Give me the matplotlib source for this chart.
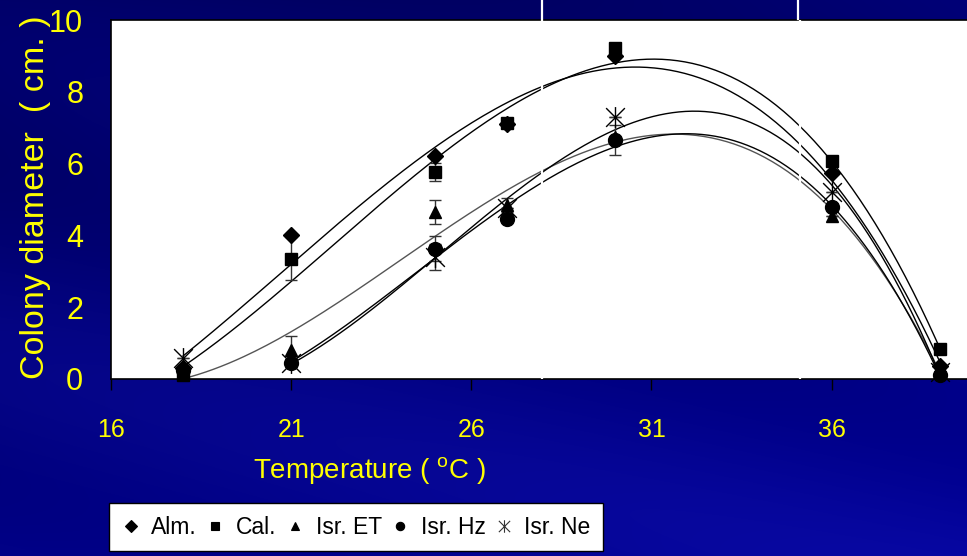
import numpy as np
import matplotlib.pyplot as plt
from matplotlib.path import Path
from matplotlib.lines import Line2D

plt.rcParams['font.family'] = ['Liberation Sans', 'DejaVu Sans']
plt.rcParams['mathtext.fontset'] = 'custom'
plt.rcParams['mathtext.rm'] = 'Liberation Sans'

# data
temps = [18, 21, 25, 27, 30, 36, 39]
alm = [0.3, 4.0, 6.2, 7.1, 9.0, 5.75, 0.35]
cal = [0.1, 3.35, 5.77, 7.12, 9.23, 6.06, 0.83]
isr_et = [0.2, 0.8, 4.65, 4.85, 6.75, 4.55, 0.3]
isr_hz = [0.25, 0.45, 3.63, 4.47, 6.65, 4.8, 0.1]
isr_ne = [0.58, 0.45, 3.4, 4.75, 7.3, 5.2, 0.2]

alm_err = [0, 0, 0, 0, 0, 0, 0]
cal_err = [0, 0.6, 0.25, 0, 0.1, 0, 0]
et_err = [0, 0.4, 0.33, 0.2, 0, 0, 0]
hz_err = [0, 0, 0.35, 0, 0.42, 0, 0]
ne_err = [0, 0, 0.37, 0, 0, 0, 0]

labels = ['Alm.', 'Cal.', 'Isr. ET', 'Isr. Hz', 'Isr. Ne']
x_ticks = [16, 21, 26, 31, 36]
y_ticks = [0, 2, 4, 6, 8, 10]

YELLOW = '#ffff00'

# asterisk marker: x with vertical bar
star = Path([(0, -1), (0, 1), (-0.9, -0.9), (0.9, 0.9), (-0.9, 0.9), (0.9, -0.9)],
            [Path.MOVETO, Path.LINETO] * 3)

series = [
    (alm, alm_err, 'D', 8, 0, 'black'),
    (cal, cal_err, 's', 9, 0, 'black'),
    (isr_et, et_err, '^', 9, 0, '#555555'),
    (isr_hz, hz_err, 'o', 10, 1, 'black'),
    (isr_ne, ne_err, star, 15, 1, 'black'),
]

fig = plt.figure(figsize=(9.67, 5.56), dpi=100)

# navy slide background with soft diagonal bands
bg = fig.add_axes([0, 0, 1, 1], zorder=-10)
yy, xx = np.mgrid[0:556, 0:967]
d = (yy - 0.25 * xx) / 556.0
band = 0.5 + 0.5 * np.sin(d * 11.0 + 1.0)
blue = 0.36 + 0.16 * (yy / 556) + 0.06 * (xx / 967) + 0.06 * band
img = np.dstack([0.03 * band * (yy / 556), 0.03 * band * (yy / 556), blue])
bg.imshow(img, aspect='auto', extent=[0, 1, 0, 1])
bg.axis('off')

ax = fig.add_axes([111 / 967, 1 - 379 / 556, 1 - 111 / 967 + 0.002, 359 / 556])
ax.set_facecolor('white')

for vals, errs, mk, ms, start, lc in series:
    t = np.array(temps[start:])
    v = np.array(vals[start:])
    coef = np.polyfit(t, v, 3)
    xf = np.linspace(t[0], t[-1], 200)
    ax.plot(xf, np.polyval(coef, xf), color=lc, lw=1.0, zorder=2)
    if any(errs):
        ax.errorbar(temps, vals, yerr=errs, fmt='none', ecolor='#333333',
                    elinewidth=1.0, capsize=4, capthick=1.0, zorder=4)

# white title artefacts crossing the plot
for px in [541.5, 798]:
    xv = 16 + (px - 111) / 35.95
    ax.axvline(xv, color='white', lw=1.6, zorder=3)
    fig.add_artist(Line2D([px / 967, px / 967], [1 - 19 / 556, 1], color='white', lw=1.6))

for vals, errs, mk, ms, start, lc in series:
    ax.plot(temps, vals, ls='none', marker=mk, ms=ms, color='black',
            mec='black', mew=1.0, zorder=5, clip_on=False)

ax.set_xlim(16, 16 + 856 / 35.95)
ax.set_ylim(0, 10)
ax.set_xticks(x_ticks)
ax.set_yticks(y_ticks)
for s in ax.spines.values():
    s.set_color('black')
    s.set_linewidth(1.2)
ax.tick_params(axis='x', direction='out', length=8, width=1, color='black',
               labelcolor=YELLOW, labelsize=18, pad=20)
ax.tick_params(axis='y', length=0, labelcolor=YELLOW, labelsize=22, pad=20)

ax.set_xlabel('Temperature ( $^{\\mathrm{o}}$C )', color=YELLOW, fontsize=20)
ax.xaxis.set_label_coords(0.301, -0.212)
ax.set_ylabel('Colony diameter  ( cm. )', color=YELLOW, fontsize=24.5)
ax.yaxis.set_label_coords(-0.07, 0.507)

handles = [Line2D([], [], ls='none', marker=mk, ms=6 if mk is not star else 9,
                  color='black', mec='black' if mk is not star else '#333333',
                  mew=0.8)
           for vals, errs, mk, ms, start, lc in series]
leg = fig.legend(handles, labels, loc='upper left', ncol=5,
                 bbox_to_anchor=(109 / 967, 1 - 503 / 556), frameon=True,
                 fancybox=False, edgecolor='black', framealpha=1, fontsize=16.5,
                 handlelength=0.8, handletextpad=0.5, columnspacing=0.4,
                 borderpad=0.55, borderaxespad=0)
leg.get_frame().set_linewidth(1.0)

fig.savefig('out.png', dpi=100)
